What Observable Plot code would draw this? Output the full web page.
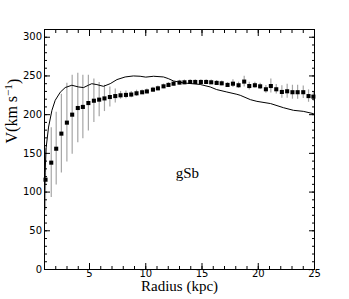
<!DOCTYPE html>
<html>
<head>
<meta charset="utf-8">
<script src="https://cdn.jsdelivr.net/npm/d3@7"></script>
<script src="https://cdn.jsdelivr.net/npm/@observablehq/plot@0.6"></script>
<style>
  html, body { margin: 0; padding: 0; background: #fff; }
</style>
</head>
<body>
<div id="chart"></div>
<script>
// Observed rotation curve (points with error bars)
const radius = [1.09, 1.6, 2.04, 2.5, 2.99, 3.46, 3.96, 4.41, 4.9, 5.39, 5.86, 6.33, 6.81, 7.29, 7.76, 8.24, 8.71, 9.18, 9.68, 10.1, 10.64, 11.08, 11.58, 12.02, 12.47, 13.0, 13.44, 13.95, 14.4, 14.9, 15.37, 15.82, 16.3, 16.75, 17.27, 17.75, 18.25, 18.75, 19.2, 19.7, 20.17, 20.68, 21.12, 21.6, 22.1, 22.57, 23.04, 23.5, 24.0, 24.47, 24.9];
const velocity = [116, 138, 156, 175.5, 189.7, 200, 208.6, 210, 215, 218, 219.4, 221, 222.8, 224, 225, 225.5, 226, 227.6, 228.9, 230, 232.3, 234, 236.6, 238.4, 240, 241.4, 241.8, 242.2, 242.2, 242.2, 242.2, 241.8, 241, 240.5, 238.4, 240, 238, 242.7, 237, 238, 236.6, 232.8, 237, 232.8, 229.3, 230.2, 229, 229, 229, 224, 223.3];
const verr = [40, 45, 47, 51, 51, 51, 45, 41, 36, 28, 22, 17, 13, 9, 5, 5, 4, 4, 3, 3, 3, 3, 3, 3, 3, 3, 3, 3, 3, 3, 3, 3, 3, 3, 3, 5, 4, 7, 5, 4, 4, 5, 9, 6, 8, 9, 9, 9, 8, 8, 6];

// Model curve
const modelR = [1.0, 1.05, 1.15, 1.36, 1.66, 1.95, 2.4, 2.84, 3.43, 4.02, 4.47, 4.9, 5.2, 5.66, 6.24, 6.84, 7.44, 8.17, 8.9, 9.5, 10.0, 10.7, 11.58, 12.0, 12.47, 13.36, 14.84, 15.73, 16.3, 17.2, 18.1, 18.4, 19.3, 19.88, 21.1, 22.24, 23.13, 24.0, 24.9, 25.0];
const modelV = [95, 125, 158, 184, 205.6, 218.5, 229, 235, 238, 235.8, 235, 238, 240, 238.8, 236.6, 240, 245.3, 248.7, 250, 249.6, 248.5, 249.6, 248.7, 246.6, 243.5, 241, 239, 235.8, 232.4, 229.3, 226.3, 225, 219.4, 217.2, 214.3, 209, 205.6, 204.3, 201.3, 201];

const xMajor = [5, 10, 15, 20, 25];
const xMinor = d3.range(1, 26, 1);
const yMajor = [0, 50, 100, 150, 200, 250, 300];
const yMinor = d3.range(0, 311, 10);

const obs = radius.map((r, i) => ({r, v: velocity[i], e: verr[i]}));
const model = modelR.map((r, i) => ({r, v: modelV[i]}));

const tickFont = "DejaVu Sans";
const serif = "Liberation Serif";

const plot = Plot.plot({
  width: 349,
  height: 299,
  marginLeft: 44,
  marginRight: 35,
  marginTop: 29,
  marginBottom: 30,
  style: {background: "#fff", overflow: "visible"},
  x: {domain: [1, 25]},
  y: {domain: [0, 310]},
  marks: [
    Plot.ruleX(obs, {x: "r", y1: d => d.v - d.e, y2: d => d.v + d.e, stroke: "#a6a6a6", strokeWidth: 1.2}),
    Plot.line(model, {x: "r", y: "v", stroke: "#000", strokeWidth: 1}),
    Plot.dot(obs, {x: "r", y: "v", symbol: "square", fill: "#000", r: 2.3}),
    Plot.text(["gSb"], {x: 13.7, y: 124, text: d => d, fontFamily: serif, fontSize: 15, fill: "#000"}),
    // bottom axis
    Plot.axisX(xMajor, {anchor: "bottom", tickSize: -6, text: null, stroke: "#000", label: null}),
    Plot.axisX(xMinor, {anchor: "bottom", tickSize: -3, text: null, stroke: "#000", label: null}),
    Plot.axisX(xMajor, {anchor: "bottom", tickSize: 0, tickPadding: 0, fontFamily: tickFont, fontSize: 10, fill: "#000", label: null}),
    // top axis
    Plot.axisX(xMajor, {anchor: "top", tickSize: -6, text: null, stroke: "#000", label: null}),
    Plot.axisX(xMinor, {anchor: "top", tickSize: -3, text: null, stroke: "#000", label: null}),
    // left axis
    Plot.axisY(yMajor, {anchor: "left", tickSize: -6, text: null, stroke: "#000", label: null}),
    Plot.axisY(yMinor, {anchor: "left", tickSize: -3, text: null, stroke: "#000", label: null}),
    Plot.axisY(yMajor, {anchor: "left", tickSize: 0, tickPadding: 2.5, fontFamily: tickFont, fontSize: 10, fill: "#000", label: null}),
    // right axis
    Plot.axisY(yMajor, {anchor: "right", tickSize: -6, text: null, stroke: "#000", label: null}),
    Plot.axisY(yMinor, {anchor: "right", tickSize: -3, text: null, stroke: "#000", label: null}),
    Plot.frame({stroke: "#000", strokeWidth: 1}),
    // axis titles
    Plot.text(["Radius (kpc)"], {frameAnchor: "bottom", dy: 21, text: d => d, fontFamily: serif, fontSize: 15, fill: "#000"}),
    Plot.text(["YLABEL"], {frameAnchor: "left", dx: -33, dy: -6, rotate: -90, text: d => d, fontFamily: serif, fontSize: 16, fill: "#000"})
  ]
});

// Rich y-axis title with superscript
d3.select(plot).selectAll("text").filter(function() { return this.textContent === "YLABEL"; }).each(function() {
  const t = d3.select(this);
  t.text(null);
  t.append("tspan").text("V(km s");
  t.append("tspan").attr("dy", "-0.45em").attr("font-size", "0.7em").text("\u22121");
  t.append("tspan").attr("dy", "0.45em").text(")");
});

document.getElementById("chart").appendChild(plot);
</script>
</body>
</html>
